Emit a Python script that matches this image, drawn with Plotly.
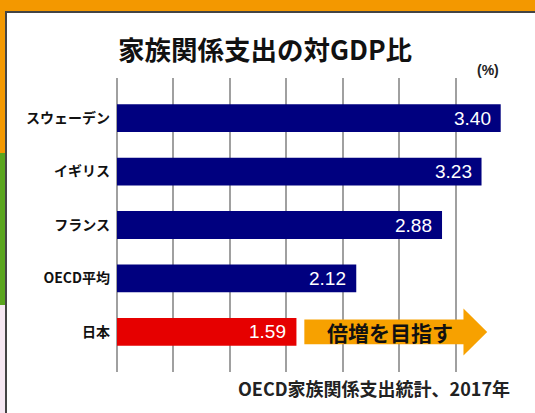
import plotly.graph_objects as go

countries = ["スウェーデン", "イギリス", "フランス", "OECD平均", "日本"]
values = [3.40, 3.23, 2.88, 2.12, 1.59]
bar_colors = ["#00007f", "#00007f", "#00007f", "#00007f", "#e60000"]
title_text = "家族関係支出の対GDP比"
unit_text = "(%)"
source_text = "OECD家族関係支出統計、2017年"
arrow_text = "倍増を目指す"

W, H = 535, 413
L, R, T, B = 117, 512, 78, 372

def px(x):
    return (x - L) / (R - L)

def py(y):
    return (B - y) / (B - T)

idx = list(range(len(countries)))
fig = go.Figure()
fig.add_trace(go.Bar(
    x=values, y=idx, orientation="h",
    marker=dict(color=bar_colors, line=dict(width=0)),
    width=0.52, hoverinfo="skip",
))

JP = "Noto Sans CJK JP"
LAT = "Liberation Sans, Arial"

# value labels
for i, v in enumerate(values):
    fig.add_annotation(x=v, y=i, xref="x", yref="y", text=f"{v:.2f}",
                       showarrow=False, xanchor="right", yanchor="middle", xshift=-8,
                       font=dict(family=LAT, size=19, color="white"))

# arrow from Japan's value towards doubling
jv = values[-1]
a0 = jv + 0.07
tip = 2 * jv + 0.1
hs = tip - 0.21
bh, hh = 0.23, 0.44
yj = len(values) - 1
path = (f"M {a0},{yj-bh} L {hs},{yj-bh} L {hs},{yj-hh} L {tip},{yj} "
        f"L {hs},{yj+hh} L {hs},{yj+bh} L {a0},{yj+bh} Z")
shapes = [
    dict(type="rect", xref="paper", yref="paper", x0=px(0), x1=px(7), y0=py(153), y1=py(305),
         fillcolor="#5aa51e", line=dict(width=0), layer="below"),
    dict(type="rect", xref="paper", yref="paper", x0=px(0), x1=px(7), y0=py(305), y1=py(H),
         fillcolor="#f6e8f2", line=dict(width=0), layer="below"),
    dict(type="rect", xref="paper", yref="paper", x0=px(6), x1=px(W + 10), y0=py(12), y1=py(H + 10),
         fillcolor="white", line=dict(color="#444444", width=2), layer="below"),
    dict(type="path", path=path, xref="x", yref="y", fillcolor="#f7a100",
         line=dict(width=0), layer="above"),
]
fig.add_annotation(x=(a0 + hs) / 2 + 0.05, y=yj, xref="x", yref="y", text=f"<b>{arrow_text}</b>",
                   showarrow=False, xanchor="center", yanchor="middle",
                   font=dict(family=JP, size=21, color="#111111"))

fig.add_annotation(x=px(265), y=py(48), xref="paper", yref="paper", text=f"<b>{title_text}</b>",
                   showarrow=False, xanchor="center", yanchor="middle",
                   font=dict(family=JP, size=26.5, color="#111111"))
fig.add_annotation(x=px(501), y=py(70), xref="paper", yref="paper", text=f"<b>{unit_text}</b>",
                   showarrow=False, xanchor="right", yanchor="middle",
                   font=dict(family=LAT, size=14, color="#222222"))
fig.add_annotation(x=px(512), y=py(388), xref="paper", yref="paper", text=f"<b>{source_text}</b>",
                   showarrow=False, xanchor="right", yanchor="middle",
                   font=dict(family=JP, size=18, color="#222222"))

fig.update_layout(
    width=W, height=H,
    margin=dict(l=L, r=W - R, t=T, b=H - B, pad=0),
    paper_bgcolor="#f39800", plot_bgcolor="rgba(0,0,0,0)",
    showlegend=False, shapes=shapes,
    xaxis=dict(range=[0, 3.5], dtick=0.5, tick0=0, showgrid=True, gridcolor="#a0a0a0", gridwidth=1.5,
               zeroline=True, zerolinecolor="#a0a0a0", zerolinewidth=1.5,
               showticklabels=False, showline=False, fixedrange=True),
    yaxis=dict(range=[len(values) - 0.25, -0.75], tickvals=idx, ticktext=[f"<b>{c}</b>" for c in countries],
               showgrid=False, zeroline=False, ticks="", ticklabelstandoff=6, automargin=False,
               tickfont=dict(family=JP, size=14, color="#111111")),
)
fig.write_html("out.html", config={"displayModeBar": False},
               post_script="document.body.style.margin='0px';document.body.style.overflow='hidden';")
